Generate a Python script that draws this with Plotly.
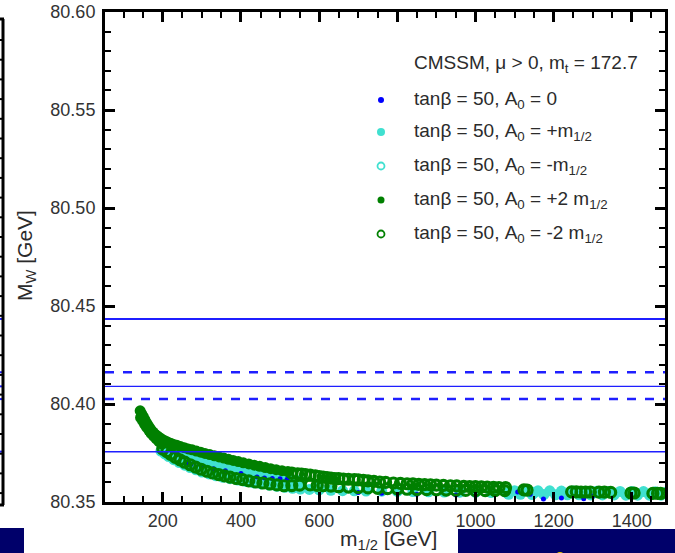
import plotly.graph_objects as go

# ---------------- data ----------------
# tanβ = 50, A0 = 0  (blue)
a0_m = [262, 267, 272, 300, 330, 360, 400, 441, 460, 480, 500, 518,
        700, 760, 850, 950, 1108, 1140, 1174, 1220, 1277, 1300]
a0_mw = [80.3700, 80.3698, 80.3693, 80.3680, 80.3670, 80.3660, 80.3645, 80.3628, 80.3623, 80.3620, 80.3618, 80.3616,
         80.3548, 80.3545, 80.3540, 80.3536, 80.3551, 80.3540, 80.3515, 80.3520, 80.3516, 80.3530]

# tanβ = 50, A0 = +m1/2  (turquoise, filled)
ap1_m = [215, 230, 245, 260, 275, 290, 305, 320, 335, 350, 365, 380, 395, 410, 425, 440, 455, 470, 485, 500, 515, 530, 550,
         195, 205, 215, 228, 242, 256, 270, 285, 300, 318, 336, 354, 372, 392, 412, 432, 452, 472, 492, 512, 532, 552, 575,
         600, 630, 660, 690, 720, 760, 800, 840, 880, 920, 960, 1000, 1040, 1080,
         1100, 1130, 1160, 1190, 1220, 1250, 1280, 1310, 1340, 1370, 1400, 1430, 1460, 1490,
         1085, 1115, 1145, 1175, 1205, 1235, 1265, 1295, 1325, 1355, 1385, 1415, 1445, 1475, 1500]
ap1_mw = [80.3775, 80.3763, 80.3750, 80.3737, 80.3724, 80.3711, 80.3704, 80.3697, 80.3690, 80.3682, 80.3675, 80.3668,
          80.3661, 80.3655, 80.3649, 80.3643, 80.3637, 80.3632, 80.3627, 80.3623, 80.3619, 80.3615, 80.3610,
          80.3760, 80.3745, 80.3732, 80.3716, 80.3701, 80.3688, 80.3676, 80.3664, 80.3653, 80.3643, 80.3634, 80.3626,
          80.3619, 80.3612, 80.3605, 80.3598, 80.3592, 80.3586, 80.3580, 80.3575, 80.3570, 80.3566, 80.3564,
          80.3562, 80.3560, 80.3558, 80.3557, 80.3556, 80.3555, 80.3554, 80.3553, 80.3552, 80.3551, 80.3550, 80.3549,
          80.3548, 80.3547,
          80.3558, 80.3558, 80.3557, 80.3557, 80.3556, 80.3556, 80.3555, 80.3555, 80.3554, 80.3554, 80.3553, 80.3553,
          80.3552, 80.3552,
          80.3539, 80.3539, 80.3538, 80.3538, 80.3537, 80.3537, 80.3537, 80.3536, 80.3536, 80.3536, 80.3535, 80.3535,
          80.3535, 80.3535, 80.3535]

# tanβ = 50, A0 = -m1/2  (turquoise, open)
am1_m = [600, 700, 850, 1000, 1150, 1300, 1450]
am1_mw = [80.3575, 80.3568, 80.3560, 80.3556, 80.3548, 80.3545, 80.3542]

# tanβ = 50, A0 = +2 m1/2  (green, filled)
ap2_m = [142, 146, 150, 154, 158, 162, 166, 170, 175, 180, 186, 192, 198, 205, 212, 220, 228, 236, 245, 255, 265,
         275, 286, 297, 308, 320, 332, 344, 356, 368, 380, 393, 406, 420, 434, 448, 462, 476, 490, 505, 520,
         143, 148, 153, 158, 164, 170, 176, 183, 190, 197]
ap2_mw = [80.3965, 80.3950, 80.3935, 80.3920, 80.3905, 80.3892, 80.3880, 80.3868, 80.3857, 80.3846, 80.3837,
          80.3828, 80.3820, 80.3813, 80.3806, 80.3800, 80.3794, 80.3789, 80.3783, 80.3777, 80.3771, 80.3766,
          80.3760, 80.3754, 80.3748, 80.3742, 80.3736, 80.3730, 80.3724, 80.3718, 80.3712, 80.3706, 80.3700,
          80.3694, 80.3688, 80.3682, 80.3676, 80.3670, 80.3665, 80.3660, 80.3655,
          80.3930, 80.3915, 80.3898, 80.3882, 80.3866, 80.3850, 80.3836, 80.3822, 80.3808, 80.3796]

# tanβ = 50, A0 = -2 m1/2  (green, open)
am2_m = [200, 210, 220, 232, 244, 256, 270, 284, 298, 313, 328, 343, 358, 372, 388, 404, 420, 438, 456, 474, 492, 510,
         530, 545, 555, 565, 577, 590, 600, 610, 620, 630, 640, 650, 662, 675, 690, 700, 713, 725, 740, 755, 770,
         790, 808, 825, 840, 855, 870, 885, 900, 918, 936, 952, 970, 985, 1000, 1015, 1030, 1046, 1060, 1077,
         530, 550, 577, 595, 610, 630, 650, 675, 700, 725, 750, 775, 800, 825, 850, 875, 900, 925, 950, 975,
         1000, 1025, 1050, 1075,
         1124, 1132, 1246, 1258, 1270, 1282, 1294, 1316, 1330, 1346, 1398, 1406, 1454, 1466, 1474]
am2_mw = [80.3770, 80.3757, 80.3743, 80.3728, 80.3715, 80.3703, 80.3690, 80.3678, 80.3667, 80.3657, 80.3648,
          80.3640, 80.3633, 80.3627, 80.3620, 80.3614, 80.3608, 80.3602, 80.3597, 80.3592, 80.3587, 80.3583,
          80.3648, 80.3644, 80.3642, 80.3640, 80.3637, 80.3633, 80.3630, 80.3627, 80.3624, 80.3622, 80.3620,
          80.3619, 80.3617, 80.3616, 80.3614, 80.3613, 80.3611, 80.3608, 80.3605, 80.3602, 80.3600, 80.3597,
          80.3595, 80.3593, 80.3592, 80.3590, 80.3589, 80.3588, 80.3586, 80.3585, 80.3583, 80.3582, 80.3580,
          80.3579, 80.3578, 80.3577, 80.3576, 80.3575, 80.3574, 80.3573,
          80.3584, 80.3586, 80.3587, 80.3585, 80.3583, 80.3581, 80.3578, 80.3576, 80.3574, 80.3572, 80.3570,
          80.3568, 80.3567, 80.3565, 80.3564, 80.3563, 80.3562, 80.3561, 80.3560, 80.3559, 80.3558, 80.3558,
          80.3558, 80.3558,
          80.3562, 80.3561, 80.3552, 80.3552, 80.3551, 80.3551, 80.3551, 80.3550, 80.3550, 80.3549, 80.3546,
          80.3546, 80.3544, 80.3544, 80.3544]

# measured M_W band (central, ±1σ, ±2σ style lines)
mw_lines = [80.4434, 80.4162, 80.4090, 80.4025, 80.3757]

legend_title = "CMSSM, μ > 0, m<sub>t</sub> = 172.7"
legend_labels = ["tanβ = 50, A<sub>0</sub> = 0",
                 "tanβ = 50, A<sub>0</sub> = +m<sub>1/2</sub>",
                 "tanβ = 50, A<sub>0</sub> = -m<sub>1/2</sub>",
                 "tanβ = 50, A<sub>0</sub> = +2 m<sub>1/2</sub>",
                 "tanβ = 50, A<sub>0</sub> = -2 m<sub>1/2</sub>"]

# ---------------- styling ----------------
BLUE = "#0000ff"
LINEBLUE = "#1f1fff"
TURQ = "#40e0d0"
GREEN = "#008000"
TXT = "#2b2b2b"
FONT = "Liberation Sans, Arial, sans-serif"

L, R, T, B = 105, 10, 12, 51
W, H = 675, 553
PW, PH = W - L - R, H - T - B


def px(x):
    return (x - L) / PW


def py(y):
    return (H - B - y) / PH


fig = go.Figure()
fig.add_trace(go.Scatter(x=ap1_m, y=ap1_mw, mode="markers",
                         marker=dict(color=TURQ, size=11, line=dict(width=0))))
fig.add_trace(go.Scatter(x=am1_m, y=am1_mw, mode="markers",
                         marker=dict(color=TURQ, size=9, symbol="circle-open", line=dict(width=2.5))))
fig.add_trace(go.Scatter(x=a0_m, y=a0_mw, mode="markers",
                         marker=dict(color=BLUE, size=5, line=dict(width=0))))
fig.add_trace(go.Scatter(x=ap2_m, y=ap2_mw, mode="markers",
                         marker=dict(color=GREEN, size=11, line=dict(width=0))))
fig.add_trace(go.Scatter(x=am2_m, y=am2_mw, mode="markers",
                         marker=dict(color=GREEN, size=10, symbol="circle-open", line=dict(width=3.2))))

shapes = []
line_styles = [("solid", 2), ("dash", 2.5), ("solid", 1.2), ("dash", 2.5), ("solid", 1.5)]
for v, (dash, w) in zip(mw_lines, line_styles):
    shapes.append(dict(type="line", xref="paper", yref="y", x0=0, x1=1, y0=v, y1=v,
                       line=dict(color=LINEBLUE, width=w, dash="dash" if dash == "dash" else "solid")))
    # neighbouring panel (cut at the left edge)
    shapes.append(dict(type="line", xref="paper", yref="y", x0=px(0), x1=px(4), y0=v, y1=v,
                       line=dict(color=LINEBLUE, width=2)))

# neighbouring panel frame at the left edge
shapes.append(dict(type="line", xref="paper", yref="paper", x0=px(3), x1=px(3), y0=py(19), y1=py(505),
                   line=dict(color="black", width=3)))
for yy in (19, 505):
    shapes.append(dict(type="line", xref="paper", yref="paper", x0=px(0), x1=px(4), y0=py(yy), y1=py(yy),
                       line=dict(color="black", width=3)))
k = 0
while 40 + k * 19.7 < 500:
    yy = 40 + k * 19.7
    shapes.append(dict(type="line", xref="paper", yref="paper", x0=px(0), x1=px(3), y0=py(yy), y1=py(yy),
                       line=dict(color="black", width=2)))
    k += 1

# slide decorations at the bottom
shapes.append(dict(type="rect", xref="paper", yref="paper", x0=px(0), x1=px(24), y0=py(553), y1=py(528),
                   fillcolor="#00006a", line=dict(width=0), layer="below"))
shapes.append(dict(type="rect", xref="paper", yref="paper", x0=px(458), x1=px(675), y0=py(553), y1=py(529),
                   fillcolor="#00006a", line=dict(width=0), layer="below"))
shapes.append(dict(type="circle", xref="paper", yref="paper", xsizemode="pixel", ysizemode="pixel",
                   xanchor=px(560), yanchor=py(557), x0=-5, x1=5, y0=-5, y1=5,
                   fillcolor="#e8d000", line=dict(width=0)))

# legend symbols
rows = [100, 132, 166, 200, 234]
sym = [(BLUE, BLUE, 3, 0), (TURQ, TURQ, 4, 0), ("white", TURQ, 3.5, 1.8), (GREEN, GREEN, 3.5, 0),
       ("white", GREEN, 3.5, 1.8)]
for ry, (fc, lc, r, lw) in zip(rows, sym):
    shapes.append(dict(type="circle", xref="paper", yref="paper", xsizemode="pixel", ysizemode="pixel",
                       xanchor=px(381), yanchor=py(ry), x0=-r, x1=r, y0=-r, y1=r,
                       fillcolor=fc, line=dict(color=lc, width=lw)))

LEG_FS = 19
annotations = [dict(text=legend_title, xref="paper", yref="paper", x=px(412), y=py(64), xanchor="left",
                    yanchor="middle", showarrow=False, font=dict(size=LEG_FS, color=TXT, family=FONT))]
for ry, lab in zip(rows, legend_labels):
    annotations.append(dict(text=lab, xref="paper", yref="paper", x=px(412), y=py(ry), xanchor="left",
                            yanchor="middle", showarrow=False, font=dict(size=LEG_FS, color=TXT, family=FONT)))
annotations.append(dict(text="M<sub>W</sub> [GeV]", xref="paper", yref="paper", x=px(26), y=py(256),
                        textangle=-90, xanchor="center", yanchor="middle", showarrow=False,
                        font=dict(size=21, color=TXT, family=FONT)))
annotations.append(dict(text="m<sub>1/2</sub> [GeV]", xref="paper", yref="paper", x=px(388), y=py(540),
                        xanchor="center", yanchor="middle", showarrow=False,
                        font=dict(size=21, color=TXT, family=FONT)))

axis_common = dict(showline=True, linecolor="black", linewidth=3, mirror="ticks", ticks="inside",
                   ticklen=10, tickwidth=2.5, tickcolor="black", showgrid=False, zeroline=False,
                   automargin=False,
                   tickfont=dict(size=18, color="#333333", family=FONT))
fig.update_xaxes(range=[52, 1485], dtick=200, tick0=0,
                 minor=dict(dtick=50, tick0=0, ticks="inside", ticklen=6, tickwidth=2, tickcolor="black",
                            showgrid=False),
                 **axis_common)
fig.update_yaxes(range=[80.35, 80.60], dtick=0.05, tick0=80.35, tickformat=".2f", ticklabelstandoff=3,
                 minor=dict(dtick=0.01, tick0=80.35, ticks="inside", ticklen=6, tickwidth=2, tickcolor="black",
                            showgrid=False),
                 **axis_common)
fig.update_layout(width=W, height=H, margin=dict(l=L, r=R, t=T, b=B, pad=0),
                  paper_bgcolor="white", plot_bgcolor="white", showlegend=False,
                  shapes=shapes, annotations=annotations)
fig.write_html("out.html")
